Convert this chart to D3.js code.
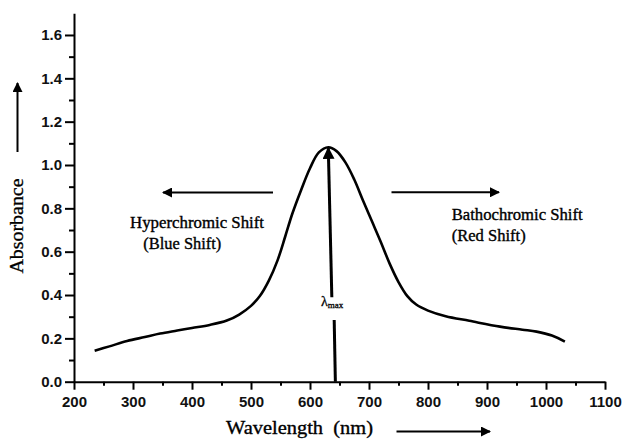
<!DOCTYPE html>
<html><head><meta charset="utf-8">
<script src="https://cdn.jsdelivr.net/npm/d3@7"></script>
<style>body{margin:0;background:#fff}svg{display:block}</style>
</head><body>
<svg id="c" width="624" height="440"></svg>
<script>
const wavelength = [235,260,290,320,346,375,400,430,459,480,500,515,530,545,558,570,585,600,615,631,645,660,675,690,705,720,735,750,765,780,800,830,870,922,960,984,1010,1032];
const absorbance = [0.143,0.163,0.188,0.206,0.222,0.236,0.248,0.262,0.282,0.310,0.350,0.395,0.465,0.56,0.67,0.775,0.885,0.985,1.058,1.082,1.064,1.012,0.933,0.835,0.74,0.645,0.545,0.46,0.395,0.356,0.328,0.302,0.281,0.254,0.240,0.231,0.213,0.185];
const xTicks = [200,300,400,500,600,700,800,900,1000,1100];
const xMinor = [250,350,450,550,650,750,850,950,1050];
const yTicks = [0,0.2,0.4,0.6,0.8,1.0,1.2,1.4,1.6];
const yMinor = [0.1,0.3,0.5,0.7,0.9,1.1,1.3,1.5];
const lambdaArrow = [[637,0.39],[631,1.078]];
const lambdaLine = [[641,0.285],[643,0]];

const svg = d3.select("#c");
const x = d3.scaleLinear().domain([200,1100]).range([74,605]);
const y = d3.scaleLinear().domain([0,1.7]).range([381.7,381.7-1.7*216.7]);

const defs = svg.append("defs");
defs.append("marker").attr("id","ah").attr("viewBox","0 0 10 10").attr("refX",9).attr("refY",5)
  .attr("markerWidth",5).attr("markerHeight",5).attr("markerUnits","strokeWidth").attr("orient","auto")
  .append("path").attr("d","M0,0 L10,5 L0,10 Z").attr("fill","#000");
defs.append("marker").attr("id","ah2").attr("viewBox","0 0 10 10").attr("refX",9).attr("refY",5)
  .attr("markerWidth",4).attr("markerHeight",4).attr("markerUnits","strokeWidth").attr("orient","auto")
  .append("path").attr("d","M0,0 L10,5 L0,10 Z").attr("fill","#000");

const sans = "'Liberation Sans', Arial, sans-serif";
const serif = "'Liberation Serif', 'Times New Roman', serif";

// axes
svg.append("g").attr("transform",`translate(0,${y(0)})`)
  .call(d3.axisBottom(x).tickValues(xTicks).tickSize(8).tickSizeOuter(0).tickPadding(7).tickFormat(d3.format("d")));
const xAxisMinor = svg.append("g").attr("transform",`translate(0,${y(0)})`)
  .call(d3.axisBottom(x).tickValues(xMinor).tickSize(4).tickSizeOuter(0).tickFormat(""));
xAxisMinor.select(".domain").remove();
svg.append("g").attr("transform",`translate(${x(200)},0)`)
  .call(d3.axisLeft(y).tickValues(yTicks).tickSize(9).tickSizeOuter(0).tickPadding(3).tickFormat(d3.format(".1f")));
const yAxisMinor = svg.append("g").attr("transform",`translate(${x(200)},0)`)
  .call(d3.axisLeft(y).tickValues(yMinor).tickSize(5).tickSizeOuter(0).tickFormat(""));
yAxisMinor.select(".domain").remove();
svg.selectAll(".domain, .tick line").attr("stroke","#000").attr("stroke-width",2);
svg.selectAll(".tick text").attr("font-family",sans).attr("font-size",15).attr("font-weight","bold").attr("fill","#111");

// curve
const line = d3.line().x((d,i)=>x(wavelength[i])).y((d,i)=>y(absorbance[i])).curve(d3.curveCatmullRom.alpha(0.5));
svg.append("path").datum(absorbance).attr("d",line).attr("fill","none").attr("stroke","#000").attr("stroke-width",2.6);

// lambda max arrow
svg.append("line").attr("x1",x(lambdaArrow[0][0])).attr("y1",y(lambdaArrow[0][1]))
  .attr("x2",x(lambdaArrow[1][0])).attr("y2",y(lambdaArrow[1][1]))
  .attr("stroke","#000").attr("stroke-width",3).attr("marker-end","url(#ah2)");
svg.append("line").attr("x1",x(lambdaLine[0][0])).attr("y1",y(lambdaLine[0][1]))
  .attr("x2",x(lambdaLine[1][0])).attr("y2",y(lambdaLine[1][1]))
  .attr("stroke","#000").attr("stroke-width",3);
const lt = svg.append("text").attr("x",321).attr("y",306).attr("font-family",serif).attr("font-size",14).attr("fill","#000")
  .attr("stroke","#000").attr("stroke-width",0.3);
lt.append("tspan").text("λ");
lt.append("tspan").attr("font-size",9).attr("dy",2).text("max");

// shift arrows
svg.append("line").attr("x1",273).attr("y1",192.5).attr("x2",163).attr("y2",192.5)
  .attr("stroke","#000").attr("stroke-width",2).attr("marker-end","url(#ah)");
svg.append("line").attr("x1",391.5).attr("y1",192.3).attr("x2",499).attr("y2",192.3)
  .attr("stroke","#000").attr("stroke-width",2).attr("marker-end","url(#ah)");

const ann = [["Hyperchromic Shift",130,228.3,134],["(Blue Shift)",143.3,249.3,78],["Bathochromic Shift",451.7,220,131],["(Red Shift)",451.7,240.7,74]];
svg.selectAll("text.ann").data(ann).enter().append("text").attr("class","ann")
  .attr("x",d=>d[1]).attr("y",d=>d[2]).attr("font-family",serif).attr("font-size",16).attr("fill","#000")
  .attr("stroke","#000").attr("stroke-width",0.35)
  .attr("textLength",d=>d[3]).attr("lengthAdjust","spacingAndGlyphs").text(d=>d[0]);

// axis titles
svg.append("text").attr("transform","translate(23,226) rotate(-90)").attr("x",-47.5)
  .attr("font-family",serif).attr("font-size",18).attr("fill","#000").attr("stroke","#000").attr("stroke-width",0.3)
  .attr("textLength",95).attr("lengthAdjust","spacingAndGlyphs").text("Absorbance");
svg.append("line").attr("x1",17.5).attr("y1",152).attr("x2",17.5).attr("y2",83)
  .attr("stroke","#000").attr("stroke-width",2).attr("marker-end","url(#ah)");
svg.append("text").attr("x",226).attr("y",434).attr("font-family",serif).attr("font-size",19).attr("fill","#000")
  .attr("stroke","#000").attr("stroke-width",0.35).attr("xml:space","preserve")
  .attr("textLength",147).attr("lengthAdjust","spacingAndGlyphs").text("Wavelength  (nm)");
svg.append("line").attr("x1",396.5).attr("y1",431.5).attr("x2",490).attr("y2",431.5)
  .attr("stroke","#000").attr("stroke-width",2).attr("marker-end","url(#ah)");
</script>
</body></html>
